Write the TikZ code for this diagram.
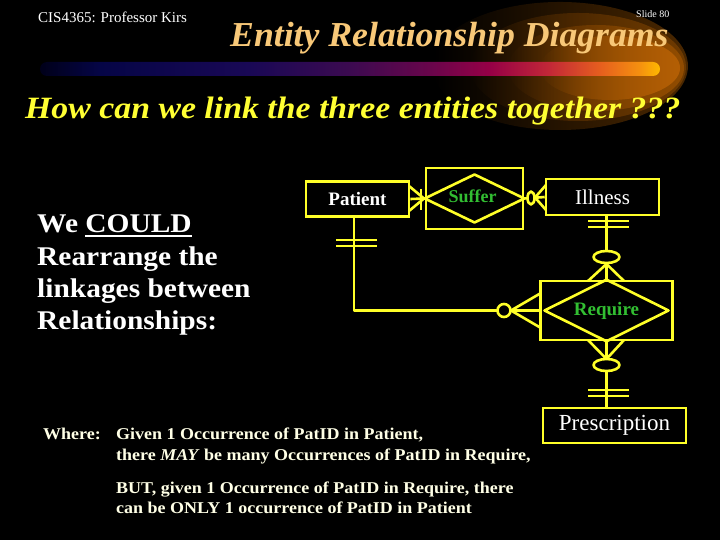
\documentclass[tikz,border=0pt]{standalone}
\usepackage{fontspec}
\usepackage{graphicx}
\setmainfont{Liberation Serif}
\usetikzlibrary{fadings}
\definecolor{ylw}{RGB}{255,255,40}
\definecolor{peach}{RGB}{248,200,120}
\definecolor{subyl}{RGB}{255,255,51}
\definecolor{grn}{RGB}{50,190,50}
\definecolor{cream}{RGB}{255,255,230}
\definecolor{b0}{RGB}{0,0,25}
\definecolor{b1}{RGB}{5,5,70}
\definecolor{b2}{RGB}{25,8,85}
\definecolor{b3}{RGB}{60,10,80}
\definecolor{b4}{RGB}{105,5,75}
\definecolor{b5}{RGB}{150,0,70}
\definecolor{b6}{RGB}{195,40,55}
\definecolor{b7}{RGB}{230,95,30}
\definecolor{b8}{RGB}{245,145,15}
\definecolor{b9}{RGB}{255,185,0}
\definecolor{g1}{RGB}{75,40,0}
\definecolor{g2}{RGB}{110,58,0}
\definecolor{g3}{RGB}{145,76,0}
\definecolor{g4}{RGB}{180,95,5}
\pgfdeclarehorizontalshading{titlebar}{100bp}{color(0bp)=(b0); color(25bp)=(b0); color(29.8bp)=(b1); color(41.9bp)=(b2); color(50bp)=(b3); color(56.5bp)=(b4); color(61.3bp)=(b5); color(66.1bp)=(b6); color(70.2bp)=(b7); color(73.4bp)=(b8); color(75bp)=(b9); color(100bp)=(b9)}
\tikzfading[name=glowfade, left color=transparent!100, middle color=transparent!25, right color=transparent!0]
\newcommand{\hsc}[1]{\scalebox{1.09}[1]{#1}}
\begin{document}
\begin{tikzpicture}[x=1pt,y=-1pt,
  conn/.style={draw=ylw, line width=2.6pt, line join=round},
  ebox/.style={draw=ylw, line width=2.6pt, rectangle, inner sep=0pt},
  lbl/.style={anchor=base west, inner sep=0pt}]
\useasboundingbox (0,0) rectangle (720,540);
\fill[black] (0,0) rectangle (720,540);
% glow
\fill[g1, path fading=glowfade] (560,66) ellipse [x radius=128pt, y radius=64pt];
\fill[g2, path fading=glowfade] (578,67) ellipse [x radius=108pt, y radius=54pt];
\fill[g3, path fading=glowfade] (596,68) ellipse [x radius=88pt, y radius=43pt];
\fill[g4, path fading=glowfade] (610,68) ellipse [x radius=70pt, y radius=32pt];
% bar
\shade[shading=titlebar, rounded corners=7pt] (40,62) rectangle (660,76);
% header texts
\node[lbl, font=\fontsize{15}{15}\selectfont, text=white] (cis) at (38,23) {CIS4365: Professor Kirs};
\node[lbl, font=\fontsize{10}{10}\selectfont, text=white] (slide) at (636,18) {Slide 80};
\node[lbl, font=\fontsize{35}{35}\selectfont\bfseries\itshape, text=peach] (title) at (230,47) {\scalebox{1.02}[1]{Entity Relationship Diagrams}};
\node[lbl, font=\fontsize{31}{31}\selectfont\bfseries\itshape, text=subyl] (sub) at (25,119) {\hsc{How can we link the three entities together ???}};
% left text
\node[lbl, font=\fontsize{27}{27}\selectfont\bfseries, text=white] (we) at (37,233) {\hsc{We}};
\node[lbl, font=\fontsize{27}{27}\selectfont\bfseries, text=white, xshift=7pt] (could) at (we.base east) {\hsc{COULD}};
\draw[white, line width=2pt] ([yshift=-3pt]could.base west) -- ([yshift=-3pt]could.base east);
\node[lbl, font=\fontsize{27}{27}\selectfont\bfseries, text=white] (l2) at (37,265) {\hsc{Rearrange the}};
\node[lbl, font=\fontsize{27}{27}\selectfont\bfseries, text=white] (l3) at (37,297) {\hsc{linkages between}};
\node[lbl, font=\fontsize{27}{27}\selectfont\bfseries, text=white] (l4) at (37,329) {\hsc{Relationships:}};
% bottom text
\node[lbl, font=\fontsize{16.5}{16.5}\selectfont\bfseries, text=cream] (where) at (43,439) {\hsc{Where:}};
\node[lbl, font=\fontsize{16.5}{16.5}\selectfont\bfseries, text=cream] (b1) at (116,439) {\hsc{Given 1 Occurrence of PatID in Patient,}};
\node[lbl, font=\fontsize{16.5}{16.5}\selectfont\bfseries, text=cream] (b2) at (116,460) {\hsc{there \textit{MAY} be many Occurrences of PatID in Require,}};
\node[lbl, font=\fontsize{16.5}{16.5}\selectfont\bfseries, text=cream] (b3) at (116,493) {\hsc{BUT, given 1 Occurrence of PatID in Require, there}};
\node[lbl, font=\fontsize{16.5}{16.5}\selectfont\bfseries, text=cream] (b4) at (116,513) {\hsc{can be ONLY 1 occurrence of PatID in Patient}};
% entities
\node[ebox, minimum width=103pt, minimum height=35pt, font=\fontsize{19}{19}\selectfont\bfseries, text=white] (patient) at (357.5,199) {Patient};
\node[ebox, minimum width=97pt, minimum height=61pt] (suffer) at (474.5,198.5) {};
\draw[conn] (suffer.west) -- ([yshift=24pt]suffer.center) -- (suffer.east) -- ([yshift=-24pt]suffer.center) -- cycle;
\node[font=\fontsize{18}{18}\selectfont\bfseries, text=grn, inner sep=0pt] (suffertxt) at ([xshift=-2pt,yshift=2pt]suffer.center) {Suffer};
\node[ebox, minimum width=113pt, minimum height=36pt, font=\fontsize{21}{21}\selectfont, text=white] (illness) at (602.5,197) {Illness};
\node[ebox, minimum width=132pt, minimum height=59pt] (require) at (606.5,310.5) {};
\draw[conn] ([xshift=-62pt]require.center) -- (require.north) -- ([xshift=62pt]require.center) -- (require.south) -- cycle;
\node[font=\fontsize{19}{19}\selectfont\bfseries, text=grn, inner sep=0pt] (requiretxt) at (require.center) {Require};
\node[ebox, minimum width=143pt, minimum height=35pt, font=\fontsize{23}{23}\selectfont, text=white] (presc) at (614.5,425.5) {Prescription};
% connectors
\draw[conn] (patient.east) -- (suffer.west);
\draw[conn] (suffer.east) -- (illness.west);
\draw[conn] (require.north |- illness.south) -- (require.north);
\draw[conn] (require.south) -- (require.south |- presc.north);
\coordinate (pdrop) at ([xshift=-3.5pt]patient.south);
\draw[conn] (pdrop) |- (require.west);
% marks: patient - suffer
\draw[conn] (409,186) -- (424,198.5) -- (409,211);
\draw[conn] (421,189) -- (421,210);
% suffer - illness
\filldraw[conn, fill=black] (531,198) ellipse [x radius=3.5pt, y radius=6.5pt];
\draw[conn] (546,185) -- (535,197.5) -- (546,210);
% illness - require
\draw[conn] (588,221) -- (629,221);
\draw[conn] (588,227) -- (629,227);
\filldraw[conn, fill=black] (606.5,257) ellipse [x radius=13pt, y radius=6pt];
\draw[conn] (588,281) -- (606.5,264) -- (624,281);
% require - prescription
\draw[conn] (588,340) -- (606.5,359) -- (624,340);
\filldraw[conn, fill=black] (606.5,365) ellipse [x radius=13pt, y radius=6pt];
\draw[conn] (588,390) -- (629,390);
\draw[conn] (588,396) -- (629,396);
% patient - require
\draw[conn] (336,240) -- (377,240);
\draw[conn] (336,246) -- (377,246);
\draw[conn] (541,293) -- (511,310.5) -- (541,328);
\filldraw[conn, fill=black] (504,310.5) circle [radius=6.5pt];
\end{tikzpicture}
\end{document}
